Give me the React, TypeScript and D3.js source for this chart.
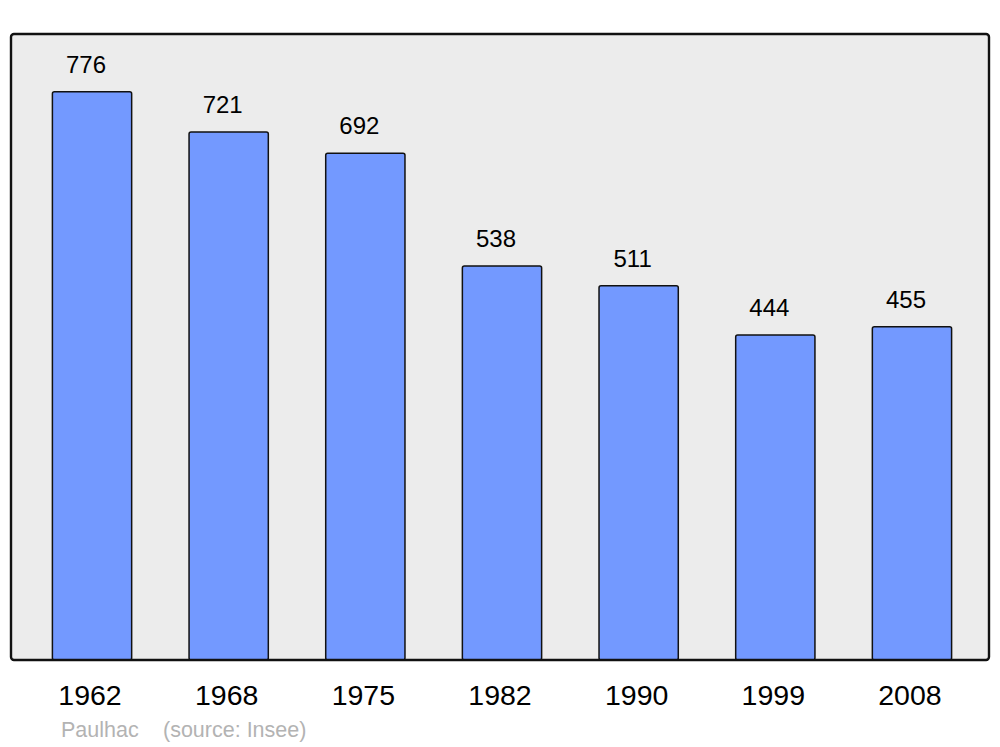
import React from "react";
import * as d3 from "d3";

const years = ["1962", "1968", "1975", "1982", "1990", "1999", "2008"];
const population = [776, 721, 692, 538, 511, 444, 455];
const placeName = "Paulhac";
const sourceText = "(source: Insee)";

const W = 1000;
const H = 747;
const frame = { left: 11, top: 34, right: 989, bottom: 660 };

export default function App() {
  const x = d3
    .scaleBand<string>()
    .domain(years)
    .range([23.7, 980.3])
    .paddingInner(0.42)
    .paddingOuter(0.21);
  const y = d3
    .scaleLinear()
    .domain([0, 855])
    .range([frame.bottom, frame.top]);

  const font = "'Liberation Sans', Arial, sans-serif";

  return (
    <svg
      width={W}
      height={H}
      style={{ position: "absolute", left: 0, top: 0, background: "#fff" }}
      fontFamily={font}
    >
      <rect
        x={frame.left}
        y={frame.top}
        width={frame.right - frame.left}
        height={frame.bottom - frame.top}
        rx={3}
        fill="#ececec"
        stroke="none"
      />
      {years.map((yr, i) => {
        const bx = x(yr)!;
        const bw = x.bandwidth();
        const top = y(population[i]);
        return (
          <g key={yr}>
            <rect
              x={bx}
              y={top}
              width={bw}
              height={frame.bottom - top}
              rx={2}
              fill="#7399ff"
              stroke="#111"
              strokeWidth={1.5}
            />
            <text
              x={bx + bw / 2 - 6}
              y={top - 19}
              textAnchor="middle"
              fontSize={24}
              fill="#000"
            >
              {population[i]}
            </text>
            <text
              x={bx + bw / 2 - 2}
              y={705}
              textAnchor="middle"
              fontSize={28.5}
              fill="#000"
            >
              {yr}
            </text>
          </g>
        );
      })}
      <rect
        x={frame.left}
        y={frame.top}
        width={frame.right - frame.left}
        height={frame.bottom - frame.top}
        rx={3}
        fill="none"
        stroke="#111"
        strokeWidth={2.4}
      />
      <text x={61} y={737} fontSize={21.5} fill="#b3b3b3">
        {placeName}
      </text>
      <text x={163} y={737} fontSize={21.5} fill="#b3b3b3">
        {sourceText}
      </text>
    </svg>
  );
}
